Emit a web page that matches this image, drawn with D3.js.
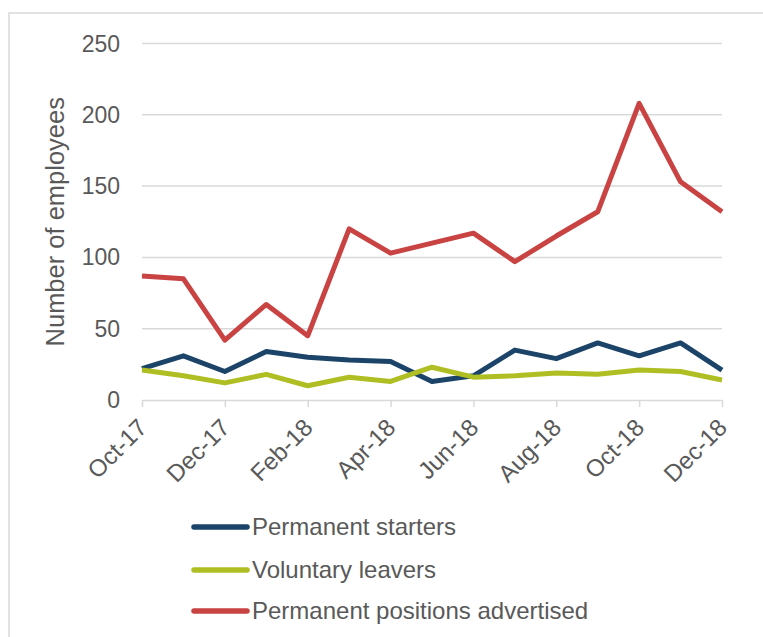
<!DOCTYPE html>
<html>
  <head>
    <meta charset="utf-8">
    <script src="https://d3js.org/d3.v7.min.js"></script>
    <title>Employees</title>
    <style>
      body { margin: 0px; background: #fff; }
      text { font-family: "Liberation Sans", Arial, sans-serif; fill: #595959; }
      .grid line { stroke: #d9d9d9; stroke-width: 1.5; }
      .x-axis .domain, .x-axis .tick line { stroke: #d9d9d9; stroke-width: 1.5; }
    </style>
  </head>
  <body>
    <svg width="763" height="637"></svg>
    <script>
      const months = ['Oct-17', 'Nov-17', 'Dec-17', 'Jan-18', 'Feb-18', 'Mar-18', 'Apr-18',
        'May-18', 'Jun-18', 'Jul-18', 'Aug-18', 'Sep-18', 'Oct-18', 'Nov-18', 'Dec-18'];
      const starters = [22, 31, 20, 34, 30, 28, 27, 13, 17, 35, 29, 40, 31, 40, 21];
      const leavers = [21, 17, 12, 18, 10, 16, 13, 23, 16, 17, 19, 18, 21, 20, 14];
      const advertised = [87, 85, 42, 67, 45, 120, 103, 110, 117, 97, 115, 132, 208, 153, 132];
      const yTicks = [0, 50, 100, 150, 200, 250];

      const series = [
        { name: 'Permanent starters', values: starters, color: '#1b4468' },
        { name: 'Voluntary leavers', values: leavers, color: '#afbe22' },
        { name: 'Permanent positions advertised', values: advertised, color: '#c94343' }
      ];

      const svg = d3.select('svg');

      // outer frame (only top and left edges are visible)
      svg.append('rect')
          .attr('x', 9).attr('y', 13)
          .attr('width', 800).attr('height', 700)
          .attr('fill', 'none')
          .attr('stroke', '#d9d9d9')
          .attr('stroke-width', 1.5);

      const xScale = d3.scalePoint().domain(months).range([142, 722]);
      const yScale = d3.scaleLinear().domain([0, 250]).range([400, 43.5]);

      const grid = svg.append('g').attr('class', 'grid');
      grid.selectAll('line').data(yTicks.filter(d => d > 0))
        .enter().append('line')
          .attr('x1', 142).attr('x2', 722)
          .attr('y1', d => yScale(d)).attr('y2', d => yScale(d));

      svg.append('g').selectAll('text').data(yTicks)
        .enter().append('text')
          .attr('x', 120)
          .attr('y', d => yScale(d))
          .attr('dy', '0.35em')
          .attr('text-anchor', 'end')
          .style('font-size', '23px')
          .text(d => d);

      svg.append('text')
          .attr('transform', `translate(64, ${(yScale(0) + yScale(250)) / 2}) rotate(-90)`)
          .attr('text-anchor', 'middle')
          .style('font-size', '25.5px')
          .text('Number of employees');

      const xAxis = d3.axisBottom(xScale)
        .tickValues(months.filter((d, i) => i % 2 === 0))
        .tickSize(7)
        .tickSizeOuter(0);

      const xAxisG = svg.append('g')
          .attr('class', 'x-axis')
          .attr('transform', 'translate(0, 400)')
          .call(xAxis);
      xAxisG.selectAll('.tick text')
          .attr('fill', '#595959')
          .style('font-size', '24px')
          .style('font-family', '"Liberation Sans", Arial, sans-serif')
          .attr('text-anchor', 'end')
          .attr('x', 0)
          .attr('y', 0)
          .attr('dy', '0.35em')
          .attr('transform', 'translate(0, 23) rotate(-45)');

      const line = d3.line()
        .x((d, i) => xScale(months[i]))
        .y(d => yScale(d));

      svg.append('g').selectAll('path').data(series)
        .enter().append('path')
          .attr('d', d => line(d.values))
          .attr('fill', 'none')
          .attr('stroke', d => d.color)
          .attr('stroke-width', 5)
          .attr('stroke-linejoin', 'round');

      const legendY = [527, 570, 611];
      const legend = svg.append('g').selectAll('g').data(series)
        .enter().append('g')
          .attr('transform', (d, i) => `translate(0, ${legendY[i]})`);
      legend.append('line')
          .attr('x1', 194).attr('x2', 247)
          .attr('stroke', d => d.color)
          .attr('stroke-width', 5.5)
          .attr('stroke-linecap', 'round');
      legend.append('text')
          .attr('x', 252)
          .attr('dy', '0.35em')
          .style('font-size', '24px')
          .text(d => d.name);
    </script>
  </body>
</html>
